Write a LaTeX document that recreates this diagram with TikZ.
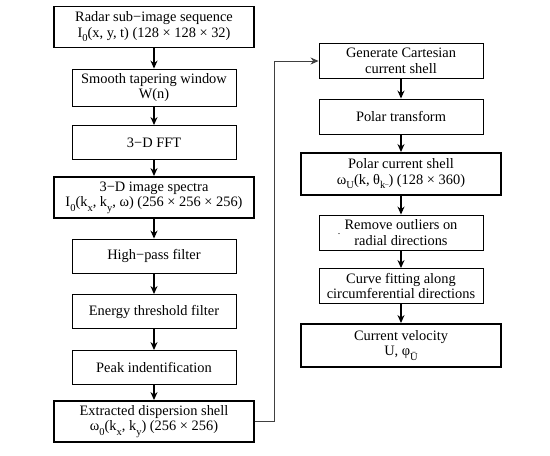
\documentclass[tikz,border=0pt]{standalone}
\usepackage{fontspec}
\setmainfont{Liberation Serif}
\usetikzlibrary{arrows.meta}
\newcommand{\lsub}[1]{\raisebox{-4.5pt}{\fontsize{10.5}{10.5}\selectfont #1}}
\tikzset{
  box/.style={draw, line width=0.9pt, minimum width=164pt, minimum height=34pt, align=center, inner sep=0pt,
    font=\fontsize{14.4}{15.5}\selectfont},
  bigbox/.style={box, line width=1.9pt, minimum width=200pt, minimum height=41pt},
  flow/.style={line width=1.3pt, -{Stealth[length=8pt,width=7pt]}},
  link/.style={line width=0.8pt, draw=black!75, -{Stealth[length=8pt,width=7pt]}}
}
\begin{document}
\begin{tikzpicture}[x=1pt,y=-1pt]
\useasboundingbox (0,0) rectangle (550,456);
% left column
\node[bigbox] (radar) at (154,27) {Radar sub−image sequence\\I\lsub{0}(x, y, t) (128 × 128 × 32)};
\node[box, minimum height=37pt] (smooth) at (154,87.5) {Smooth tapering window\\W(n)};
\node[box] (fft) at (154,142.5) {3−D FFT};
\node[bigbox] (spec) at (154,197.5) {3−D image spectra\\I\lsub{0}(k\lsub{x}, k\lsub{y}, ω) (256 × 256 × 256)};
\node[box] (hp) at (154,256) {High−pass filter};
\node[box] (energy) at (154,311.5) {Energy threshold filter};
\node[box] (peak) at (154,367.5) {Peak indentification};
\node[bigbox] (shell) at (154,421.5) {Extracted dispersion shell\\ω\lsub{0}(k\lsub{x}, k\lsub{y}) (256 × 256)};
% right column
\node[box, minimum height=35pt] (gen) at (401,61) {Generate Cartesian\\current shell};
\node[box, minimum height=35pt] (polar) at (401,116.5) {Polar transform};
\node[bigbox, minimum height=42pt] (pshell) at (401,174) {Polar current shell\\ω\lsub{U}(k, θ\lsub{k\kern-0.3pt\raisebox{2pt}{\fontsize{7}{7}\selectfont –}}) (128 × 360)};
\node[box, minimum height=35pt] (remove) at (401,232.5) {Remove outliers on\\radial directions};
\node[inner sep=0pt, font=\fontsize{10}{10}\selectfont, anchor=base] (dot) at (339,234) {.};
\node[box, minimum height=35pt] (curve) at (401,286) {Curve fitting along\\circumferential directions};
\node[bigbox, minimum height=43pt] (vel) at (401,345.5) {Current velocity\\U, φ\lsub{Ū}};
% connectors
\draw[flow] (radar) -- (smooth);
\draw[flow] (smooth) -- (fft);
\draw[flow] (fft) -- (spec);
\draw[flow] (spec) -- (hp);
\draw[flow] (hp) -- (energy);
\draw[flow] (energy) -- (peak);
\draw[flow] (peak) -- (shell);
\coordinate (c1) at (274,421.5);
\coordinate (c2) at (274,61);
\draw[link] (shell.east) -- (c1) -- (c2) -- (gen.west);
\draw[flow] (gen) -- (polar);
\draw[flow] (polar) -- (pshell);
\draw[flow] (pshell) -- (remove);
\draw[flow] (remove) -- (curve);
\draw[flow] (curve) -- (vel);
\end{tikzpicture}
\end{document}
